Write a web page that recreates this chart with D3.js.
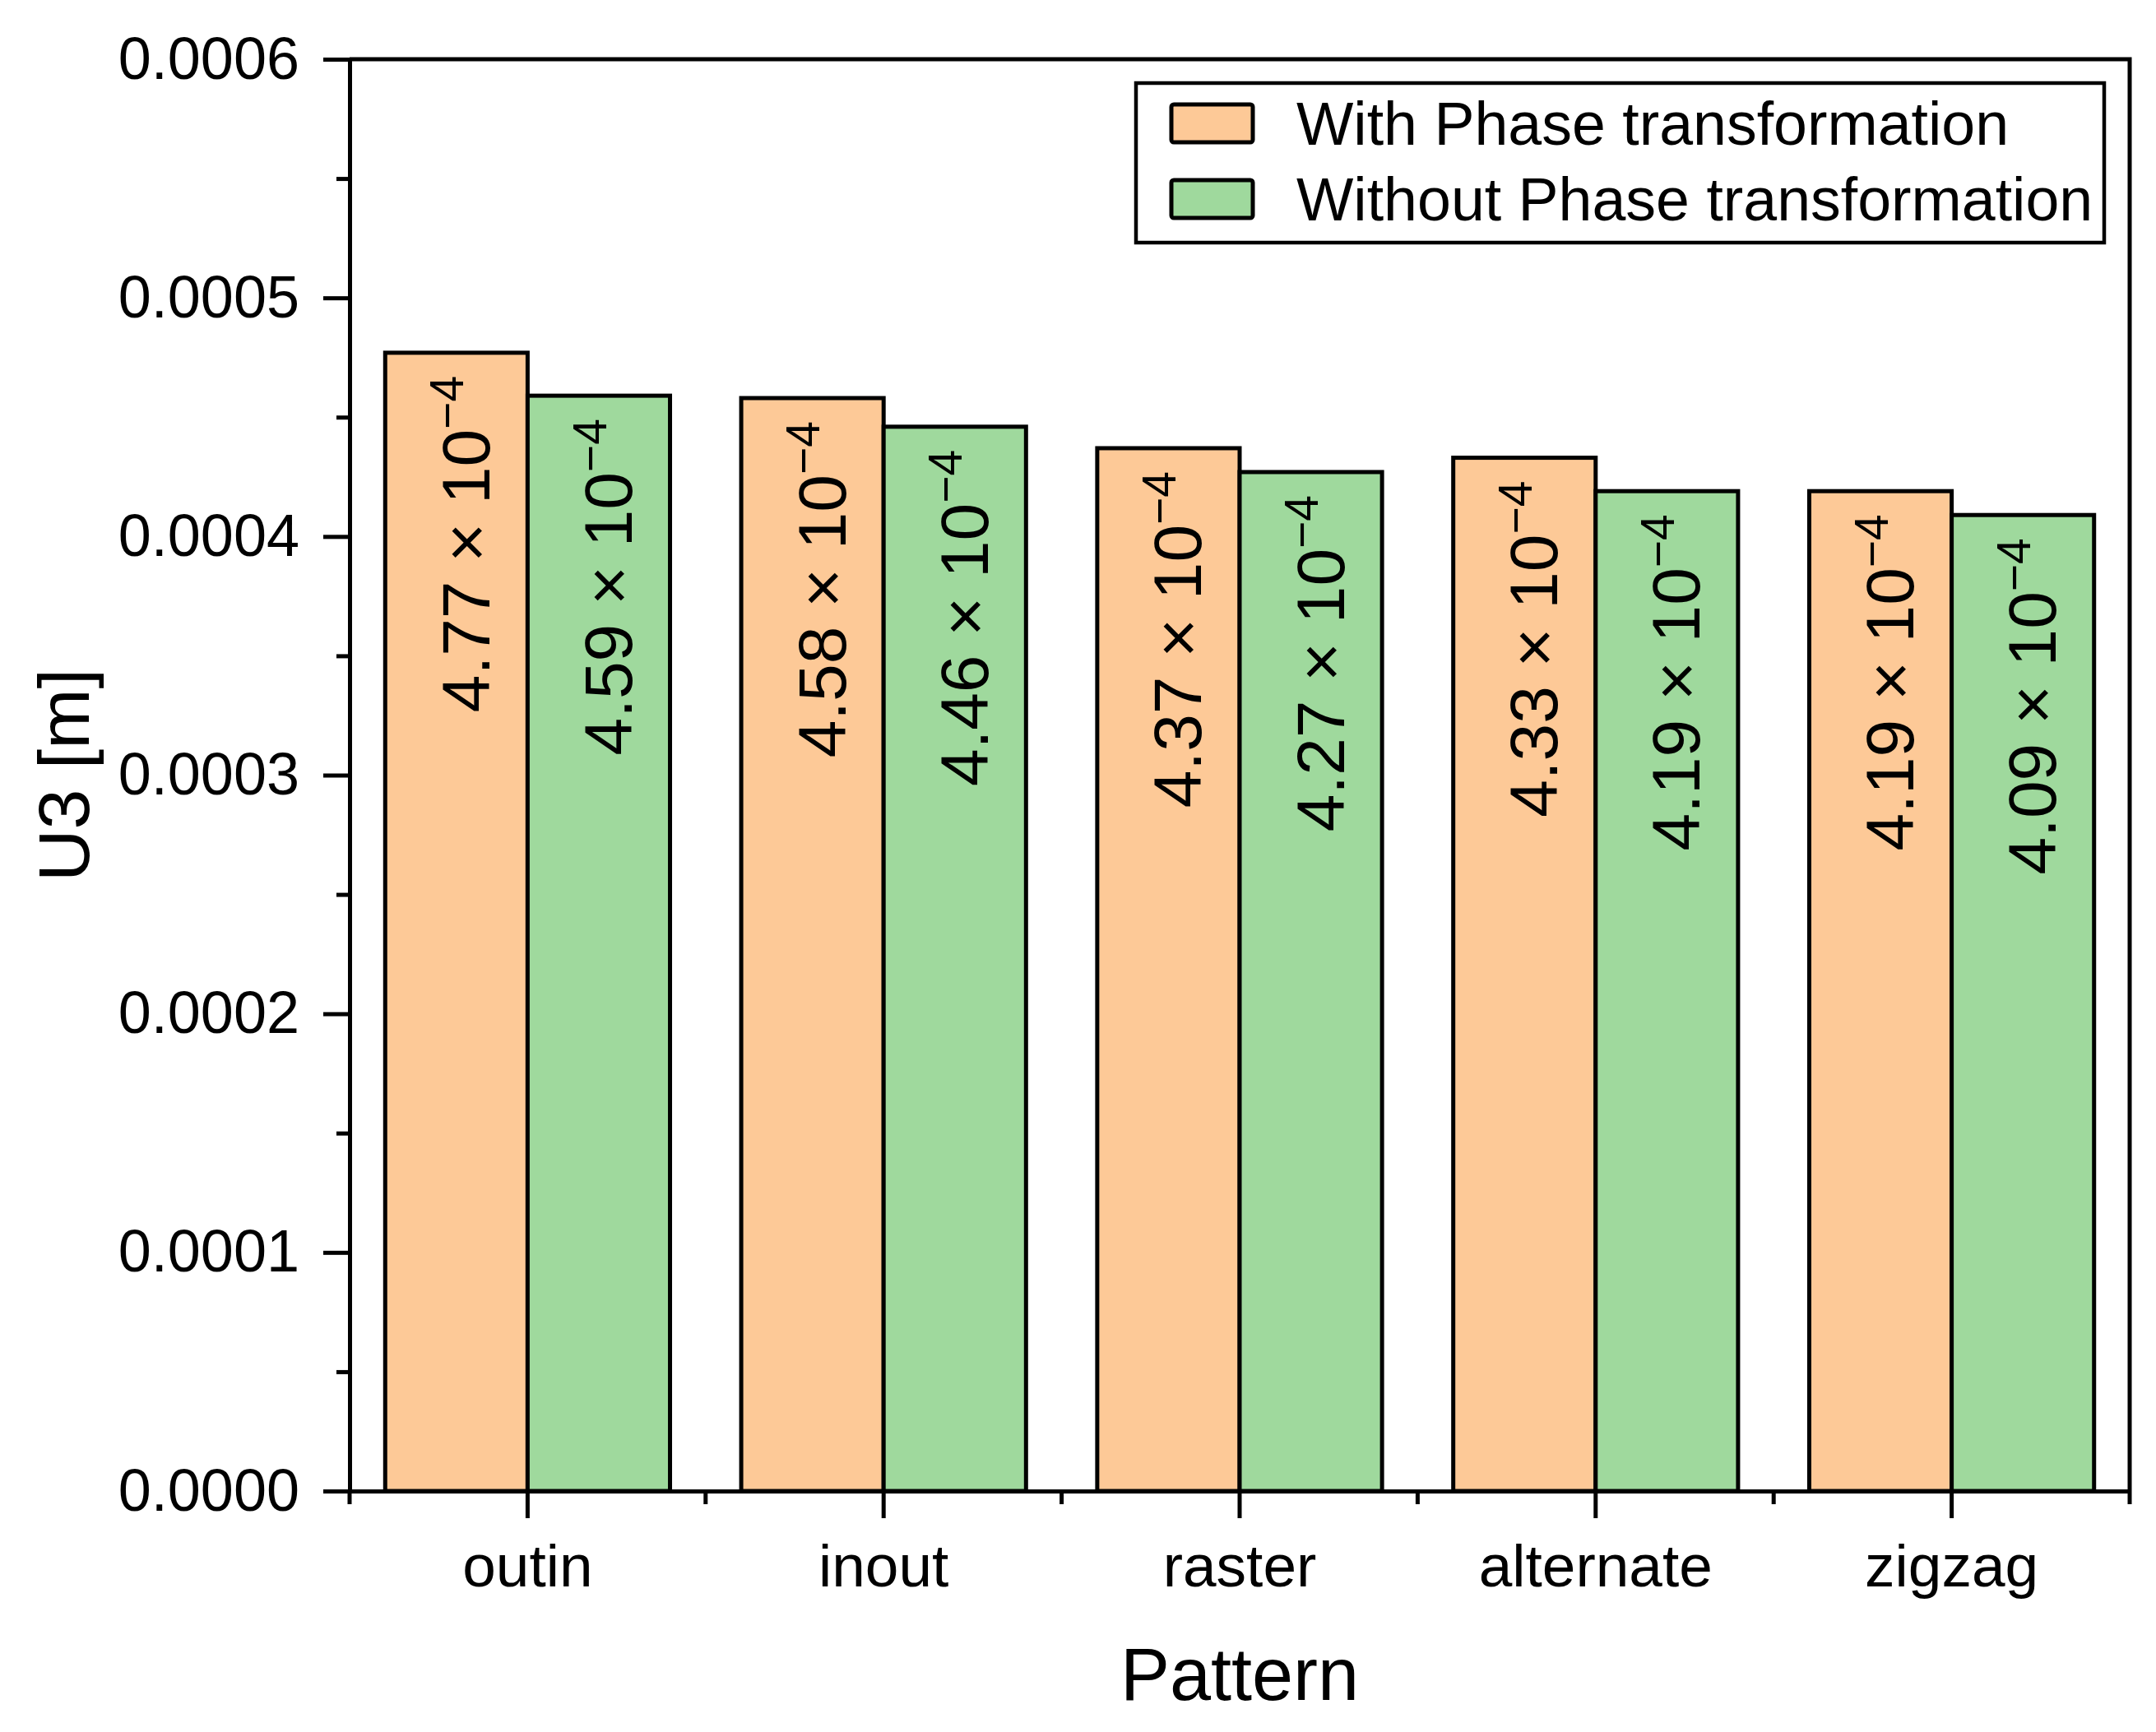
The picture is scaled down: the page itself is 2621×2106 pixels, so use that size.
<!DOCTYPE html>
<html>
<head>
<meta charset="utf-8">
<script src="https://cdn.jsdelivr.net/npm/d3@7"></script>
<style>
  body { margin: 0; background: #fff; }
  text { font-family: "Liberation Sans", Arial, sans-serif; fill: #000; }
</style>
</head>
<body>
<svg id="chart" width="2621" height="2106"></svg>
<script>
// data
const patterns = ["outin", "inout", "raster", "alternate", "zigzag"];
const seriesNames = ["With Phase transformation", "Without Phase transformation"];
const withPhase = [4.77, 4.58, 4.37, 4.33, 4.19];     // x 10^-4 m
const withoutPhase = [4.59, 4.46, 4.27, 4.19, 4.09];  // x 10^-4 m
const yTicks = [0, 0.0001, 0.0002, 0.0003, 0.0004, 0.0005, 0.0006];
const yMinor = [0.00005, 0.00015, 0.00025, 0.00035, 0.00045, 0.00055];
const colors = ["#FDC997", "#9FD99D"];

const svg = d3.select("#chart");
const plotL = 425, plotR = 2589, plotT = 72, plotB = 1813;

const y = d3.scaleLinear().domain([0, 0.0006]).range([plotB, plotT]);
const x = d3.scaleBand().domain(patterns).range([plotL, plotR]).padding(0);
const x1 = d3.scaleBand().domain(seriesNames).range([0, x.bandwidth()])
  .paddingInner(0).paddingOuter(0.25);

// bars
const rows = patterns.map((p, i) => ({
  pattern: p,
  values: [withPhase[i], withoutPhase[i]]
}));

const groups = svg.append("g").selectAll("g")
  .data(rows).join("g")
  .attr("transform", d => `translate(${x(d.pattern)},0)`);

groups.selectAll("rect")
  .data(d => d.values.map((v, k) => ({ v, k })))
  .join("rect")
  .attr("x", d => x1(seriesNames[d.k]))
  .attr("y", d => y(d.v * 1e-4))
  .attr("width", x1.bandwidth())
  .attr("height", d => plotB - y(d.v * 1e-4))
  .attr("fill", d => colors[d.k])
  .attr("stroke", "#000")
  .attr("stroke-width", 5);

// value labels, rotated inside the bars
groups.selectAll("text.val")
  .data(d => d.values.map((v, k) => ({ v, k })))
  .join("text")
  .attr("class", "val")
  .attr("transform", d => {
    const cx = x1(seriesNames[d.k]) + x1.bandwidth() / 2 + 40;
    return `translate(${cx},${y(d.v * 1e-4) + 28}) rotate(-90)`;
  })
  .attr("text-anchor", "end")
  .style("font-size", "82px")
  .each(function(d) {
    const t = d3.select(this);
    t.append("tspan").text(d.v.toFixed(2) + " \u00d7 10");
    t.append("tspan").attr("dy", "-0.55em").style("font-size", "57px").text("\u22124");
  });

// y axis
svg.append("g")
  .attr("transform", `translate(${plotL},0)`)
  .call(d3.axisLeft(y).tickValues(yTicks).tickFormat(d3.format(".4f"))
    .tickSize(32).tickSizeOuter(0).tickPadding(29))
  .call(g => g.selectAll("text").style("font-size", "72px"))
  .call(g => g.selectAll("line, path").attr("stroke", "#000").attr("stroke-width", 5));

svg.append("g")
  .attr("transform", `translate(${plotL},0)`)
  .call(d3.axisLeft(y).tickValues(yMinor).tickFormat("").tickSize(16).tickSizeOuter(0))
  .call(g => g.select("path").remove())
  .call(g => g.selectAll("line").attr("stroke", "#000").attr("stroke-width", 5));

// x axis
svg.append("g")
  .attr("transform", `translate(0,${plotB})`)
  .call(d3.axisBottom(x).tickSize(33).tickSizeOuter(0).tickPadding(31))
  .call(g => g.selectAll("text").style("font-size", "73px"))
  .call(g => g.selectAll("line, path").attr("stroke", "#000").attr("stroke-width", 5));

// minor ticks at the band edges
const edges = patterns.map(p => x(p)).concat([x(patterns[patterns.length - 1]) + x.bandwidth()]);
svg.append("g").selectAll("line")
  .data(edges).join("line")
  .attr("x1", d => d).attr("x2", d => d)
  .attr("y1", plotB).attr("y2", plotB + 16)
  .attr("stroke", "#000").attr("stroke-width", 5);

// top and right frame
svg.append("path")
  .attr("d", `M${plotL},${plotT}H${plotR}V${plotB}`)
  .attr("fill", "none").attr("stroke", "#000").attr("stroke-width", 5);

// axis titles
svg.append("text")
  .attr("x", (plotL + plotR) / 2).attr("y", 2067)
  .attr("text-anchor", "middle")
  .style("font-size", "90px")
  .text("Pattern");

svg.append("text")
  .attr("transform", `translate(108,${(plotT + plotB) / 2}) rotate(-90)`)
  .attr("text-anchor", "middle")
  .style("font-size", "88px")
  .text("U3 [m]");

// legend
const legend = svg.append("g");
legend.append("rect")
  .attr("x", 1381).attr("y", 101).attr("width", 1177).attr("height", 194)
  .attr("fill", "#fff").attr("stroke", "#000").attr("stroke-width", 4.5);

const items = legend.selectAll("g.item")
  .data(seriesNames).join("g")
  .attr("class", "item")
  .attr("transform", (d, i) => `translate(0,${150 + i * 92})`);

items.append("rect")
  .attr("x", 1424).attr("y", -23).attr("width", 99).attr("height", 46)
  .attr("rx", 3)
  .attr("fill", (d, i) => colors[i])
  .attr("stroke", "#000").attr("stroke-width", 5);

items.append("text")
  .attr("x", 1576).attr("y", 26)
  .style("font-size", "73.5px")
  .text(d => d);
</script>
</body>
</html>
